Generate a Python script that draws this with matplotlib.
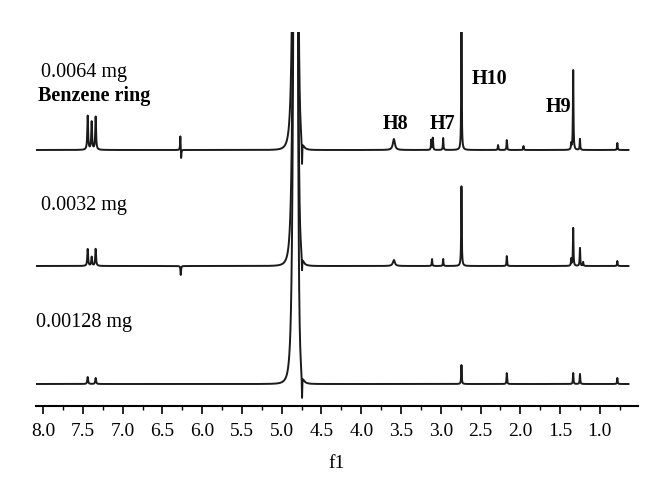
import matplotlib
matplotlib.use("Agg")
import matplotlib.pyplot as plt
import numpy as np

# peak lists: position (ppm), height (px above baseline)
top_ppm = [7.44, 7.39, 7.34, 6.275, 6.265, 3.59, 3.12, 3.10, 2.97, 2.74, 2.28, 2.17, 1.96, 1.36, 1.335, 1.25, 0.78]
top_h = [34, 28, 33, 15, -10, 11, 10, 12, 12, 120, 5, 10, 4, 6, 80, 11, 7]

mid_ppm = [7.44, 7.39, 7.34, 6.27, 3.59, 3.11, 2.97, 2.74, 2.17, 1.36, 1.335, 1.25, 1.21, 0.78]
mid_h = [17, 9, 17, -9, 6, 7, 7, 80, 10, 7, 38, 18, 4, 5]

low_ppm = [7.44, 7.34, 2.74, 2.17, 1.335, 1.25, 0.78]
low_h = [7, 6, 19, 11, 11, 10, 6]

water_ppm = 4.82
water_dip = [-25, -15, -25]   # top, middle, bottom

labels = ["0.0064 mg", "0.0032 mg", "0.00128 mg"]
ticks = [8.0, 7.5, 7.0, 6.5, 6.0, 5.5, 5.0, 4.5, 4.0, 3.5, 3.0, 2.5, 2.0, 1.5, 1.0]

x = np.linspace(8.10, 0.64, 8000)


def lor(x0, h, g=0.004):
    return h / (1 + ((x - x0) / g) ** 2)


def trace(ppm, hs, dip):
    y = np.zeros_like(x)
    for p, h in zip(ppm, hs):
        g = 0.006 if p > 7 else (0.015 if 3.5 < p < 3.7 else 0.004)
        y += lor(p, h, g)
    # big water signal, steeper on the right side
    g = np.where(x > water_ppm, 0.033, 0.022)
    y += 1687 / (1 + ((x - water_ppm) / g) ** 2) ** 2
    y += lor(4.745, dip, 0.003)
    return y


plt.rcParams['font.family'] = ['Liberation Serif', 'DejaVu Serif']

fig = plt.figure(figsize=(6.6, 4.99), dpi=100)
ax = fig.add_axes([36 / 660, 1 - 406 / 499, 602 / 660, 374 / 499])

bases = [256, 140, 22]
data = [(top_ppm, top_h), (mid_ppm, mid_h), (low_ppm, low_h)]
for (pp, hh), b, d in zip(data, bases, water_dip):
    ax.plot(x, b + trace(pp, hh, d), color="#1a1a1a", lw=1.4)

ax.set_xlim(8.09, 0.52)
ax.set_ylim(0, 374)

ax.text(8.03, 334, labels[0], fontsize=14.5, va="center", ha="left")
ax.text(8.07, 310, "Benzene ring", fontsize=14.5, fontweight="bold", va="center", ha="left")
ax.text(8.03, 201, labels[1], fontsize=14.5, va="center", ha="left")
ax.text(8.09, 84, labels[2], fontsize=14.5, va="center", ha="left")

for t, px, py in [("H8", 3.57, 282), ("H7", 2.98, 282), ("H10", 2.39, 327), ("H9", 1.52, 299)]:
    ax.text(px, py, t, fontsize=14.5, fontweight="bold", va="center", ha="center")

for s in ["top", "left", "right"]:
    ax.spines[s].set_visible(False)
ax.spines["bottom"].set_linewidth(1.5)
ax.set_yticks([])
ax.set_xticks(ticks)
ax.set_xticklabels([f"{t:.1f}" for t in ticks])
ax.set_xticks(np.arange(0.75, 8.1, 0.25), minor=True)
ax.tick_params(axis="x", which="major", length=6, width=1.2, labelsize=14, pad=6)
ax.tick_params(axis="x", which="minor", length=3, width=1.0)
ax.set_xlabel("f1", fontsize=14, labelpad=11)

fig.savefig("out.png", dpi=100)
